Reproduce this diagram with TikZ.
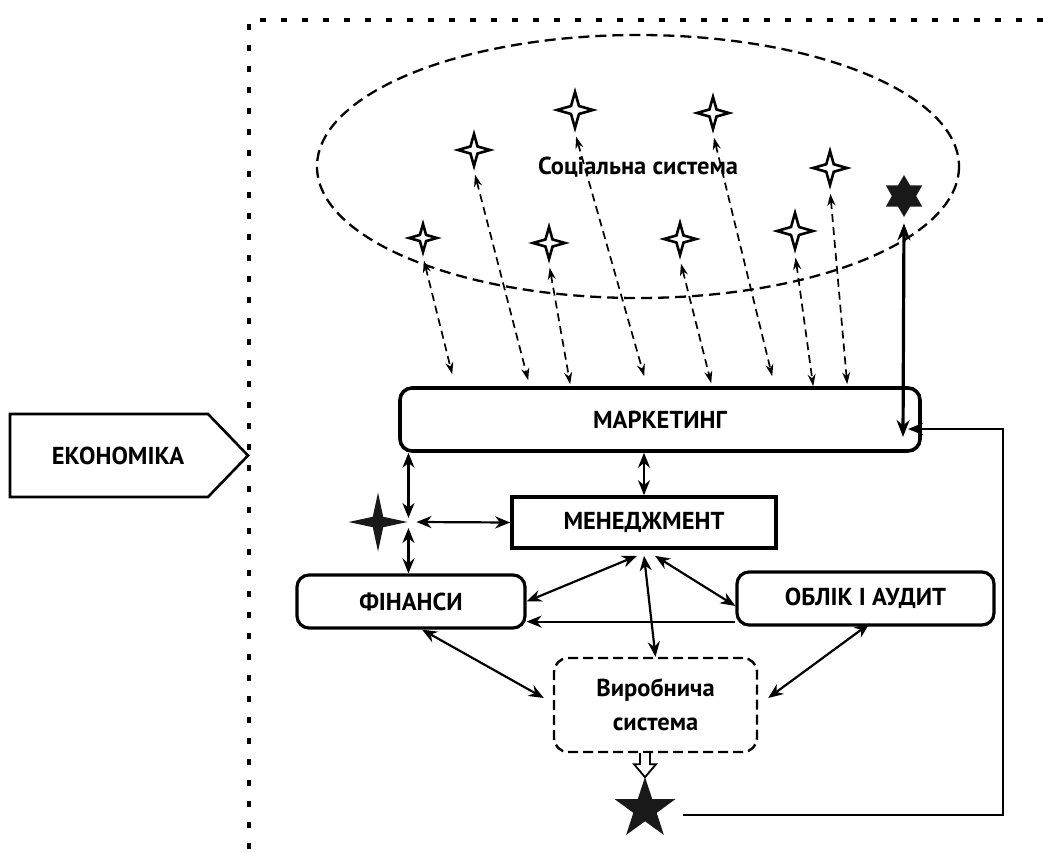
\documentclass[tikz,border=0pt]{standalone}
\usepackage{fontspec}
\setmainfont{PT Sans}
\usetikzlibrary{arrows.meta, shapes.geometric}

\begin{document}
\begin{tikzpicture}[
  x=1pt, y=-1pt,
  font=\fontsize{24.5}{28}\selectfont\bfseries,
  block/.style = {draw, line width=3.2pt, rounded corners=12pt, inner sep=0pt, align=center},
  flat/.style = {draw, line width=3.6pt, inner sep=0pt, align=center},
  cloud/.style = {draw, dash pattern=on 10pt off 5pt, line width=2.4pt, rounded corners=14pt, inner sep=0pt, align=center},
  spark/.style = {star, star points=4, star point ratio=3.2, draw, line width=2.6pt, fill=white, inner sep=0pt},
  blackstar/.style = {star, fill=black!90, inner sep=0pt},
  arrow/.style = {line width=2.2pt, {Stealth[length=15pt,width=12pt]}-{Stealth[length=15pt,width=12pt]}},
  single/.style = {line width=1.8pt, -{Stealth[length=15pt,width=12pt]}},
  link/.style = {line width=1.7pt, dash pattern=on 8pt off 5pt, {Stealth[length=12pt,width=8pt]}-{Stealth[length=12pt,width=8pt]}},
  frame/.style = {line width=3.5pt, dash pattern=on 6pt off 15pt}
]
\useasboundingbox (0,0) rectangle (1043,853);

  % Outer border
  \draw[frame] (1043,20) -- (249,20) -- (249,853);

  % Economy
  \draw[line width=2.6pt] (10,414) -- (208,414) -- (248,455.5) -- (208,497) -- (10,497) -- cycle;
  \node (eco) at (118,455.5) {ЕКОНОМІКА};

  % Social system
  \draw[line width=2.3pt, dash pattern=on 11pt off 6pt] (638,166.5) ellipse [x radius=321, y radius=131.5];
  \node (soc) at (638,167) {Соціальна система};

  \node[spark, minimum size=32pt] (s1) at (474,150) {};
  \node[spark, minimum size=36pt] (s2) at (575,110) {};
  \node[spark, minimum size=32pt] (s3) at (713,113) {};
  \node[spark, minimum size=34pt] (s4) at (830,168) {};
  \node[spark, minimum size=28pt] (s5) at (423,238) {};
  \node[spark, minimum size=32pt] (s6) at (549,243) {};
  \node[spark, minimum size=32pt] (s7) at (680,239) {};
  \node[spark, minimum size=36pt] (s8) at (795,231) {};
  \node[blackstar, star points=6, star point ratio=1.73, minimum size=42pt] (hex) at (904,196) {};

  % Enterprise
  \node[block, line width=3.6pt, minimum width=520pt, minimum height=63pt] (mkt) at (660,419.5) {МАРКЕТИНГ};
  \node[flat, minimum width=264pt, minimum height=51pt] (men) at (644,522.5) {МЕНЕДЖМЕНТ};
  \node[block, minimum width=228pt, minimum height=53pt] (fin) at (411,601.5) {ФІНАНСИ};
  \node[block, minimum width=257pt, minimum height=53pt] (aud) at (865.5,598.5) {ОБЛІК І АУДИТ};
  \node[cloud, minimum width=203pt, minimum height=94pt,
        font=\fontsize{24.5}{34}\selectfont\bfseries] (prod) at (655.5,705) {Виробнича\\система};
  \node[blackstar, star points=4, star point ratio=4, minimum size=59pt] (hub) at (378,522) {};
  \node[blackstar, star points=5, star point ratio=2.6, minimum size=64pt] (res) at (645,809) {};

  % links to the social system
  \foreach \s/\dx/\dy in {s5/54/12, s1/130/6, s6/172/2, s2/246/10, s7/313/3, s3/374/10, s8/415/0, s4/449/2}
    \draw[link, shorten <=4pt] (\s.south) -- ([xshift=\dx pt, yshift=\dy pt]mkt.north west);

  \coordinate (hxin) at (903,437);
  \draw[line width=3.2pt, {Stealth[length=17pt,width=13pt]}-{Stealth[length=17pt,width=13pt]}, shorten <=6pt] (hex.south) -- (hxin);

  % inner links
  \draw[arrow] (mkt.south -| men.north) -- (men.north);
  \draw[arrow] (mkt.south -| hub.east) -- ([yshift=4pt]hub.east);
  \draw[arrow] ([yshift=-6pt]hub.east) -- (fin.north -| hub.east);
  \draw[arrow] ([xshift=8pt]hub.east) -- (men.west);
  \draw[arrow] ([xshift=-7pt,yshift=-6pt]men.south) -- (fin.east);
  \draw[arrow] ([xshift=11pt,yshift=-6pt]men.south) -- ([yshift=-7.5pt]aud.west);
  \draw[arrow] ([yshift=-6pt]men.south) -- (prod.north);
  \draw[single] ([yshift=5pt]aud.south west) -- ([yshift=5pt]aud.south west -| fin.east);
  \draw[arrow] ([xshift=11pt]fin.south) -- ([xshift=-9pt,yshift=7pt]prod.west);
  \draw[arrow] ([xshift=4pt,yshift=3pt]aud.south) -- ([xshift=10pt,yshift=7pt]prod.east);

  % output
  \draw[line width=1.8pt, fill=white] (prod.south -| res.north) ++(-5,0) -- ++(0,11) -- ++(-6,0)
    -- ++(11,13) -- ++(11,-13) -- ++(-6,0) -- ++(0,-11);

  \coordinate (mkin) at (908,429);
  \draw[single] ([xshift=21pt,yshift=-6pt]res.east) -- ++(320,0) |- (mkin);

\end{tikzpicture}
\end{document}
